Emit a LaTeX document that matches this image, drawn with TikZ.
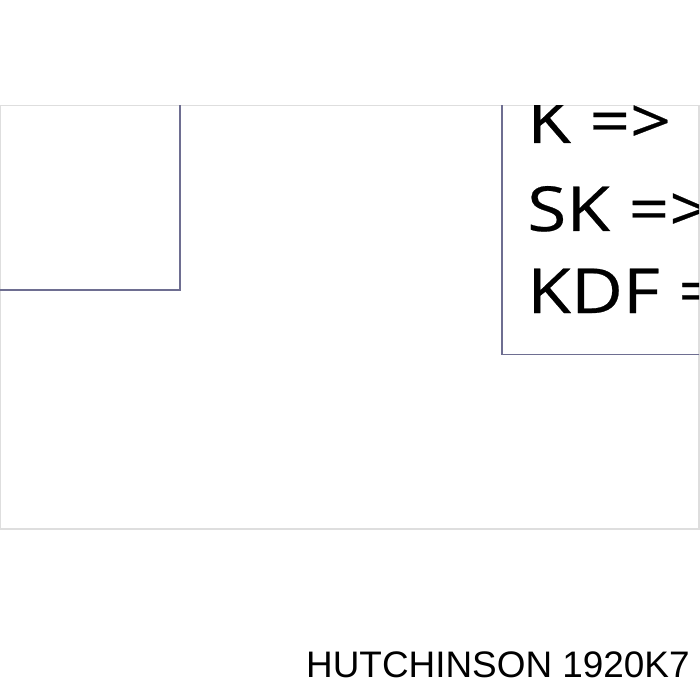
\documentclass[tikz,border=0pt]{standalone}
\usepackage{fontspec}
\setmainfont{Liberation Sans}
\newfontfamily\labelfont[FakeStretch=1.15,FakeBold=0.4]{Open Sans}
\definecolor{boxline}{RGB}{110,110,145}
\definecolor{frameline}{RGB}{222,222,222}
\begin{document}
\begin{tikzpicture}[x=1pt,y=-1pt,
  frame/.style={draw=frameline,line width=1.2pt},
  boxedge/.style={draw=boxline,line width=1.8pt},
  code/.style={anchor=base west,inner sep=0pt,font=\labelfont\fontsize{62}{62}\selectfont},
  caption/.style={anchor=base west,inner sep=0pt,font=\fontsize{36.9}{36.9}\selectfont}]
\useasboundingbox (0,0) rectangle (700,700);
\fill[white] (0,0) rectangle (700,700);
\draw[frame] (0,105.5) rectangle (699,529);
\begin{scope}
  \clip (0,105.5) rectangle (699,529);
  \draw[boxedge] (180,105) -- (180,290) -- (-2,290);
  \draw[boxedge] (502,105) -- (502,354.5) -- (702,354.5);
  \node[code] (k) at (527,143) {K =>};
  \node[code] (sk) at (527,231) {SK =>};
  \node[code] (kdf) at (527,313) {KDF =>};
\end{scope}
\node[caption] (cap) at (306,677) {HUTCHINSON 1920K7};
\end{tikzpicture}
\end{document}
